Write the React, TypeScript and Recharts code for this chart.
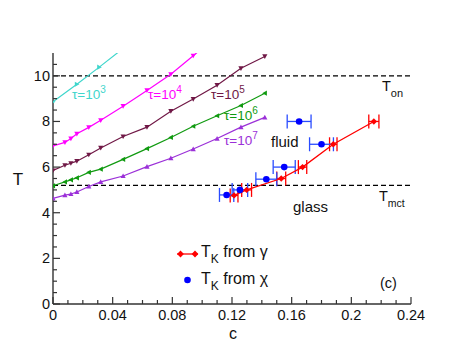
import React from 'react';
import { ComposedChart, Line, Scatter, ErrorBar, XAxis, YAxis, ReferenceLine } from 'recharts';

const FONT = '"Liberation Sans", Arial, Helvetica, sans-serif';
const AX = '#333';

// relaxation-time curves (c, T)
const cTau = [0, 0.008, 0.012, 0.016, 0.024, 0.032, 0.047, 0.063, 0.079, 0.094, 0.11, 0.126, 0.142];
const tau3C = [0, 0.016, 0.031, 0.047];
const tau3T = [8.86, 9.63, 10.38, 11.2];
const tau4T = [6.93, 7.08, 7.25, 7.46, 7.74, 8.05, 8.67, 9.36, 10.07, 10.88, 11.75];
const tau5T = [5.85, 6.08, 6.17, 6.26, 6.54, 6.84, 7.34, 7.75, 8.45, 8.98, 9.59, 10.33, 10.85];
const tau6T = [5.18, 5.35, 5.44, 5.53, 5.77, 5.91, 6.34, 6.81, 7.3, 7.79, 8.25, 8.7, 9.24];
const tau7T = [4.63, 4.77, 4.82, 4.91, 5.15, 5.35, 5.61, 6.02, 6.39, 6.79, 7.25, 7.75, 8.18];

// T_K from gamma
const gammaC = [0.1214, 0.1298, 0.153, 0.1673, 0.1879, 0.2151];
const gammaT = [4.76, 5.0, 5.5, 6.0, 7.0, 8.0];
const gammaErr = [0.0026, 0.0033, 0.003, 0.0028, 0.0025, 0.0034];

// T_K from chi
const chiC = [0.1164, 0.1253, 0.143, 0.155, 0.18, 0.165];
const chiT = [4.78, 5.0, 5.47, 6.0, 7.0, 8.0];
const chiErr = [0.0048, 0.0052, 0.007, 0.0074, 0.008, 0.008];

const T_ON = 10;
const T_MCT = 5.2;

const xMajor = [0, 0.04, 0.08, 0.12, 0.16, 0.2, 0.24];
const yMajor = [0, 2, 4, 6, 8, 10];
const xTicks: number[] = [];
for (let i = 0; i <= 24; i++) xTicks.push(+(i * 0.01).toFixed(2));
const yTicks: number[] = [];
for (let i = 0; i <= 21; i++) yTicks.push(i * 0.5);

const pts = (cs: number[], ts: number[]) => cs.map((c, i) => ({ c, T: ts[i] }));
const errPts = (cs: number[], ts: number[], es: number[]) => cs.map((c, i) => ({ c, T: ts[i], err: es[i] }));

const isMajor = (v: number, list: number[]) => list.some(m => Math.abs(m - v) < 1e-6);
const fmt = (v: number) => String(Number(v.toFixed(2)));

const xTick = (side: 'bottom' | 'top') => (props: any) => {
  const { x, y, payload } = props;
  const major = isMajor(payload.value, xMajor);
  const len = major ? 7 : 4;
  const dir = side === 'bottom' ? -1 : 1;
  return (
    <g>
      <line x1={x} x2={x} y1={y} y2={y + dir * len} stroke={AX} strokeWidth={1.2} />
      {side === 'bottom' && major && (
        <text x={x} y={y + 16} textAnchor="middle" fontSize={14.5} fill="#111" fontFamily={FONT}>{fmt(payload.value)}</text>
      )}
    </g>
  );
};

const yTick = (side: 'left' | 'right') => (props: any) => {
  const { x, y, payload } = props;
  const major = isMajor(payload.value, yMajor);
  const len = major ? 7 : 4;
  const dir = side === 'left' ? 1 : -1;
  return (
    <g>
      <line x1={x} x2={x + dir * len} y1={y} y2={y} stroke={AX} strokeWidth={1.2} />
      {side === 'left' && major && (
        <text x={x - 3} y={y + 5} textAnchor="end" fontSize={14.5} fill="#111" fontFamily={FONT}>{payload.value}</text>
      )}
    </g>
  );
};

const marker = (kind: string, color: string) => (p: any) => {
  const { cx, cy, index } = p;
  if (cx == null || cy == null) return <g key={index} />;
  const s = 2.6;
  let d = '';
  if (kind === 'down') d = `M${cx - s},${cy - s * 0.8} L${cx + s},${cy - s * 0.8} L${cx},${cy + s} Z`;
  else if (kind === 'up') d = `M${cx - s},${cy + s * 0.8} L${cx + s},${cy + s * 0.8} L${cx},${cy - s} Z`;
  else if (kind === 'left') d = `M${cx + s * 0.8},${cy - s} L${cx + s * 0.8},${cy + s} L${cx - s},${cy} Z`;
  else d = `M${cx - s * 0.8},${cy - s} L${cx - s * 0.8},${cy + s} L${cx + s},${cy} Z`;
  return <path key={index} d={d} fill={color} stroke="none" />;
};

const Diamond = (p: any) => {
  const { cx, cy } = p;
  const s = 3.2;
  return <path d={`M${cx},${cy - s} L${cx + s},${cy} L${cx},${cy + s} L${cx - s},${cy} Z`} fill="#ff0000" />;
};
const Dot = (p: any) => <circle cx={p.cx} cy={p.cy} r={3.3} fill="#0000ff" />;

const W = 463;
const H = 358;

const series = [
  { id: 't3', data: pts(tau3C, tau3T), color: '#3fd6cc', kind: 'right' },
  { id: 't4', data: pts(cTau, tau4T), color: '#ff00ff', kind: 'down' },
  { id: 't5', data: pts(cTau, tau5T), color: '#701846', kind: 'down' },
  { id: 't6', data: pts(cTau, tau6T), color: '#109a10', kind: 'left' },
  { id: 't7', data: pts(cTau, tau7T), color: '#9b30d8', kind: 'up' },
];

const Tau = ({ x, y, color, exp }: { x: number; y: number; color: string; exp: string }) => (
  <text x={x} y={y} fill={color} fontSize={13.5} fontFamily={FONT}>
    τ=10<tspan dy={-6} fontSize={10}>{exp}</tspan>
  </text>
);

export default function App() {
  return (
    <div style={{ position: 'absolute', left: 0, top: 0, width: W, height: H, background: '#fff' }}>
      <ComposedChart width={W} height={H} margin={{ top: 53, right: 52, left: 0, bottom: 0 }}>
        <XAxis
          xAxisId="b"
          dataKey="c"
          type="number"
          domain={[0, 0.24]}
          ticks={xTicks}
          interval={0}
          allowDataOverflow
          height={54}
          tickSize={0}
          tickMargin={0}
          tickLine={false}
          tick={xTick('bottom')}
          axisLine={{ stroke: AX, strokeWidth: 1.4 }}
        />
        <XAxis
          xAxisId="t"
          orientation="top"
          type="number"
          domain={[0, 0.24]}
          ticks={xTicks}
          interval={0}
          allowDataOverflow
          height={0}
          tickSize={0}
          tickMargin={0}
          tickLine={false}
          tick={xTick('top')}
          axisLine={{ stroke: AX, strokeWidth: 1.4 }}
        />
        <YAxis
          yAxisId="l"
          type="number"
          domain={[0, 11]}
          ticks={yTicks}
          interval={0}
          allowDataOverflow
          width={53}
          tickSize={0}
          tickMargin={0}
          tickLine={false}
          tick={yTick('left')}
          axisLine={{ stroke: AX, strokeWidth: 1.4 }}
        />
        <YAxis
          yAxisId="r"
          orientation="right"
          type="number"
          domain={[0, 11]}
          ticks={yTicks}
          interval={0}
          allowDataOverflow
          width={0}
          tickSize={0}
          tickMargin={0}
          tickLine={false}
          tick={yTick('right')}
          axisLine={{ stroke: AX, strokeWidth: 1.4 }}
        />
        <ReferenceLine xAxisId="b" yAxisId="l" y={T_ON} stroke="#000" strokeWidth={1.2} strokeDasharray="5 3" />
        <ReferenceLine xAxisId="b" yAxisId="l" y={T_MCT} stroke="#000" strokeWidth={1.2} strokeDasharray="5 3" />
        {series.map(s => (
          <Line
            key={s.id}
            xAxisId="b"
            yAxisId="l"
            data={s.data}
            dataKey="T"
            type="linear"
            stroke={s.color}
            strokeWidth={1.2}
            dot={marker(s.kind, s.color)}
            activeDot={false}
            isAnimationActive={false}
          />
        ))}
        <Scatter
          xAxisId="b"
          yAxisId="l"
          data={errPts(gammaC, gammaT, gammaErr)}
          dataKey="T"
          shape={Diamond}
          line={{ stroke: '#ff0000', strokeWidth: 1.3 }}
          lineType="joint"
          isAnimationActive={false}
        >
          <ErrorBar dataKey="err" direction="x" stroke="#ff0000" strokeWidth={1.3} width={7} />
        </Scatter>
        <Scatter
          xAxisId="b"
          yAxisId="l"
          data={errPts(chiC, chiT, chiErr)}
          dataKey="T"
          shape={Dot}
          isAnimationActive={false}
        >
          <ErrorBar dataKey="err" direction="x" stroke="#2a4cff" strokeWidth={1.3} width={7} />
        </Scatter>
      </ComposedChart>
      <svg width={W} height={H} style={{ position: 'absolute', left: 0, top: 0, pointerEvents: 'none' }} fontFamily={FONT}>
        <Tau x={72} y={99} color="#3fd6cc" exp="3" />
        <Tau x={148} y={99} color="#ff00ff" exp="4" />
        <Tau x={211} y={99} color="#701846" exp="5" />
        <Tau x={224} y={120} color="#109a10" exp="6" />
        <Tau x={224} y={145} color="#9b30d8" exp="7" />
        <text x={271} y={147} fontSize={15} fill="#111">fluid</text>
        <text x={293} y={212} fontSize={15} fill="#111">glass</text>
        <text x={382} y={91} fontSize={14.5} fill="#111">T<tspan dy={6} fontSize={11}>on</tspan></text>
        <text x={379} y={201} fontSize={14.5} fill="#111">T<tspan dy={6} fontSize={10.5}>mct</tspan></text>
        <text x={380} y={288} fontSize={14.5} fill="#111">(c)</text>
        <text x={18} y={185} fontSize={17} fill="#111" textAnchor="middle">T</text>
        <text x={233} y={339} fontSize={16} fill="#111" textAnchor="middle">c</text>
        <line x1={177} x2={198} y1={254} y2={254} stroke="#ff0000" strokeWidth={1.3} />
        <path d="M180.5,250.6 L183.9,254 L180.5,257.4 L177.1,254 Z" fill="#ff0000" />
        <path d="M195,250.6 L198.4,254 L195,257.4 L191.6,254 Z" fill="#ff0000" />
        <text x={201} y={257} fontSize={16} fill="#111">T<tspan dy={6} fontSize={12}>K</tspan><tspan dy={-6}> from γ</tspan></text>
        <circle cx={187.5} cy={280} r={3.3} fill="#0000ff" />
        <text x={201} y={284} fontSize={16} fill="#111">T<tspan dy={6} fontSize={12}>K</tspan><tspan dy={-6}> from χ</tspan></text>
      </svg>
    </div>
  );
}
